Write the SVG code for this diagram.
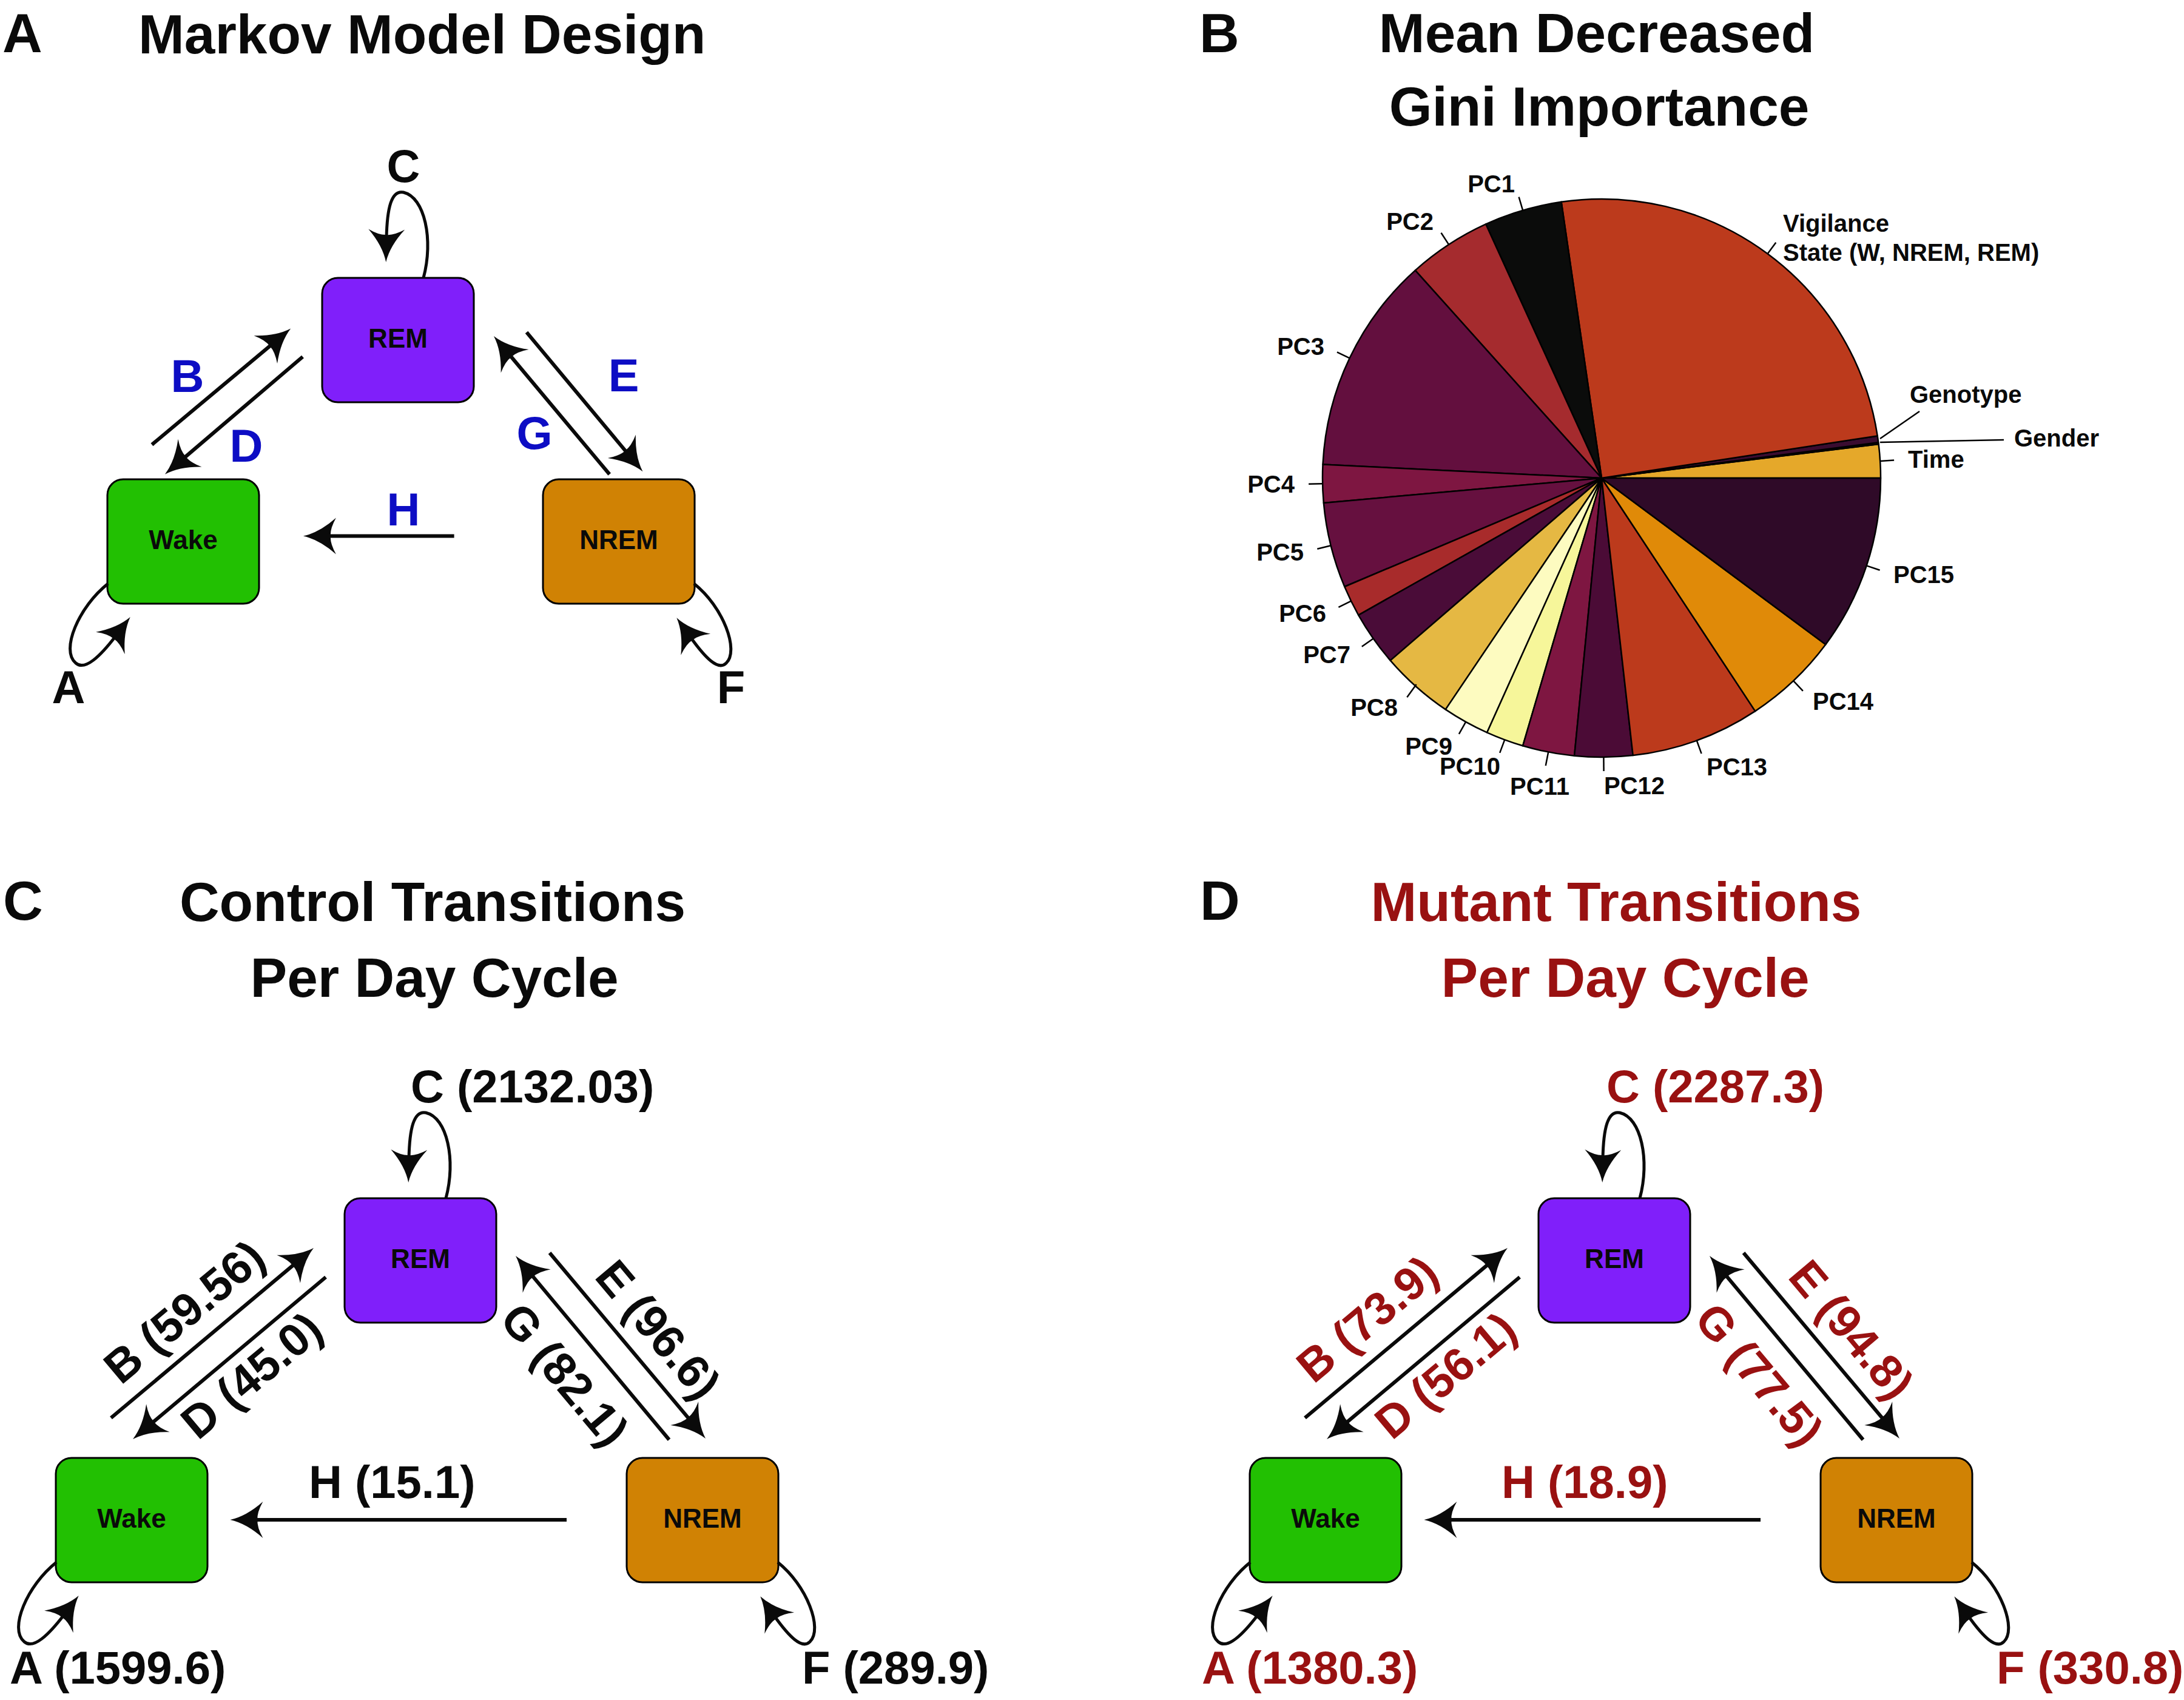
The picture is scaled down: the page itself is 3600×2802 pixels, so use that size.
<svg xmlns="http://www.w3.org/2000/svg" width="3600" height="2802" viewBox="0 0 3600 2802">
<style>
.t{font-family:"Liberation Sans",Arial,Helvetica,sans-serif;font-weight:bold;fill:#0a0a0a}
.ttl{font-size:91px}
.lbl{font-size:76px}
.nt{font-size:44px;text-anchor:middle}
.pl{font-size:40px}
.end{text-anchor:end}
.mid{text-anchor:middle}
.blue{fill:#0d0dc4}
.red{fill:#991111}
.box{stroke:#000;stroke-width:3}
.rem{fill:#801ffa}
.wake{fill:#22c002}
.nrem{fill:#d08204}
.ln{fill:none;stroke:#0a0a0a;stroke-width:6;marker-end:url(#ah)}
.lp{fill:none;stroke:#0a0a0a;stroke-width:5;marker-end:url(#ah)}
.sl{stroke:#000;stroke-width:2.5;stroke-linejoin:round}
.tk{stroke:#000;stroke-width:2.5;fill:none}
</style>
<defs>
<marker id="ah" markerUnits="userSpaceOnUse" markerWidth="120" markerHeight="120" refX="6" refY="0" orient="auto" overflow="visible">
<path d="M45,0 Q18,-6 -9,-30 Q1,-12 0,0 Q1,12 -9,30 Q18,6 45,0 Z" fill="#0a0a0a"/>
</marker>
</defs>
<rect width="3600" height="2802" fill="#fff"/>

<!-- Panel A -->
<g id="panelA">
<text class="t ttl" x="4" y="86">A</text>
<text class="t ttl" x="228" y="88">Markov Model Design</text>
<g id="A-REM"><rect class="box rem" x="531" y="458" width="250" height="205" rx="26"/><text class="t nt" x="656" y="573">REM</text></g>
<g id="A-Wake"><rect class="box wake" x="177" y="790" width="250" height="205" rx="26"/><text class="t nt" x="302" y="905">Wake</text></g>
<g id="A-NREM"><rect class="box nrem" x="895" y="790" width="250" height="205" rx="26"/><text class="t nt" x="1020" y="905">NREM</text></g>
<g id="A-connectors">
<path class="ln" d="M250.4,732.9 L449.3,566.6"/>
<path class="ln" d="M499,588 L301.6,756.4"/>
<path class="ln" d="M868,547.7 L1034.5,747.3"/>
<path class="ln" d="M1004.7,781.8 L839,583.8"/>
<path class="ln" d="M748.6,883.6 L538.9,883.6"/>
<path class="lp" d="M698,458 C715,395 700,325 665,317 C645,313 638,343 637,393"/>
<path class="lp" d="M178,962 C130,1000 99,1072 125,1093 C140,1106 165,1082 191,1048"/>
<path class="lp" d="M1144,962 C1192,1000 1219,1072 1197,1093 C1184,1106 1163,1085 1138,1050"/>
</g>
<g id="A-labels">
<text class="t lbl mid" x="665" y="300">C</text>
<text class="t lbl mid blue" x="309" y="646">B</text>
<text class="t lbl mid blue" x="406" y="761">D</text>
<text class="t lbl mid blue" x="1028" y="645">E</text>
<text class="t lbl mid blue" x="881" y="740">G</text>
<text class="t lbl mid blue" x="665" y="866">H</text>
<text class="t lbl mid" x="113" y="1159">A</text>
<text class="t lbl mid" x="1205" y="1159">F</text>
</g>
</g>

<!-- Panel B -->
<g id="panelB">
<text class="t ttl" x="1977" y="86">B</text>
<text class="t ttl mid" x="2632" y="86">Mean Decreased</text>
<text class="t ttl mid" x="2636" y="207">Gini Importance</text>
<g id="pie">
<path class="sl" fill="#e5a82a" d="M2640,788 L3100,788 A460,460 0 0 0 3096.6,731.9 Z"/>
<path class="sl" fill="#6a1040" d="M2640,788 L3096.6,731.9 A460,460 0 0 0 3096.2,729.2 Z"/>
<path class="sl" fill="#3a0c30" d="M2640,788 L3096.2,729.2 A460,460 0 0 0 3094.7,718.4 Z"/>
<path class="sl" fill="#bc3a1c" d="M2640,788 L3094.7,718.4 A460,460 0 0 0 2573.6,332.8 Z"/>
<path class="sl" fill="#0b0c0b" d="M2640,788 L2573.6,332.8 A460,460 0 0 0 2449.2,369.4 Z"/>
<path class="sl" fill="#a52b2e" d="M2640,788 L2449.2,369.4 A460,460 0 0 0 2332.8,445.6 Z"/>
<path class="sl" fill="#630f3e" d="M2640,788 L2332.8,445.6 A460,460 0 0 0 2180.5,765.5 Z"/>
<path class="sl" fill="#7e1641" d="M2640,788 L2180.5,765.5 A460,460 0 0 0 2181.8,828.9 Z"/>
<path class="sl" fill="#66103f" d="M2640,788 L2181.8,828.9 A460,460 0 0 0 2216.3,967 Z"/>
<path class="sl" fill="#a82b2b" d="M2640,788 L2216.3,967 A460,460 0 0 0 2239.2,1013.8 Z"/>
<path class="sl" fill="#4a0c38" d="M2640,788 L2239.2,1013.8 A460,460 0 0 0 2291.8,1088.6 Z"/>
<path class="sl" fill="#e5b843" d="M2640,788 L2291.8,1088.6 A460,460 0 0 0 2382.8,1169.4 Z"/>
<path class="sl" fill="#fdfbc0" d="M2640,788 L2382.8,1169.4 A460,460 0 0 0 2451.1,1207.4 Z"/>
<path class="sl" fill="#f6f69a" d="M2640,788 L2451.1,1207.4 A460,460 0 0 0 2510.1,1229.3 Z"/>
<path class="sl" fill="#7e1641" d="M2640,788 L2510.1,1229.3 A460,460 0 0 0 2595.1,1245.8 Z"/>
<path class="sl" fill="#4b0b36" d="M2640,788 L2595.1,1245.8 A460,460 0 0 0 2691.7,1245.1 Z"/>
<path class="sl" fill="#bc3a1c" d="M2640,788 L2691.7,1245.1 A460,460 0 0 0 2893.2,1172.1 Z"/>
<path class="sl" fill="#e08a08" d="M2640,788 L2893.2,1172.1 A460,460 0 0 0 3009.3,1062.3 Z"/>
<path class="sl" fill="#2f0a28" d="M2640,788 L3009.3,1062.3 A460,460 0 0 0 3100,788 Z"/>
</g>
<g id="pie-ticks">
<path class="tk" d="M3099.1,759.9 L3122.1,758.5"/>
<path class="tk" d="M3099,729 L3303,725"/>
<path class="tk" d="M3099,723 L3164,678"/>
<path class="tk" d="M2913.6,418.2 L2927.3,399.7"/>
<path class="tk" d="M2510.1,346.7 L2503.6,324.7"/>
<path class="tk" d="M2388.1,403.1 L2375.5,383.8"/>
<path class="tk" d="M2224.7,590.3 L2203.9,580.4"/>
<path class="tk" d="M2180.1,797.2 L2157.1,797.7"/>
<path class="tk" d="M2193.7,899.3 L2171.3,904.8"/>
<path class="tk" d="M2227.1,990.7 L2206.4,1000.8"/>
<path class="tk" d="M2263.7,1052.5 L2244.8,1065.7"/>
<path class="tk" d="M2334.6,1128 L2319.3,1149.2"/>
<path class="tk" d="M2416.1,1189.8 L2404.9,1209.9"/>
<path class="tk" d="M2480.2,1219.4 L2472.2,1240.9"/>
<path class="tk" d="M2552.2,1239.6 L2547.8,1262.1"/>
<path class="tk" d="M2643.4,1248 L2643.6,1271"/>
<path class="tk" d="M2796.8,1220.5 L2804.6,1242.1"/>
<path class="tk" d="M2956.1,1122.2 L2971.9,1138.9"/>
<path class="tk" d="M3076.7,932.4 L3098.6,939.7"/>
</g>
<g id="pie-labels">
<text class="t pl" x="2939" y="382">Vigilance</text>
<text class="t pl" x="2939" y="430">State (W, NREM, REM)</text>
<text class="t pl" x="3148" y="664">Genotype</text>
<text class="t pl" x="3320" y="736">Gender</text>
<text class="t pl" x="3145" y="771">Time</text>
<text class="t pl end" x="2497" y="317">PC1</text>
<text class="t pl end" x="2363" y="379">PC2</text>
<text class="t pl end" x="2183" y="585">PC3</text>
<text class="t pl end" x="2134" y="812">PC4</text>
<text class="t pl end" x="2149" y="924">PC5</text>
<text class="t pl end" x="2186" y="1025">PC6</text>
<text class="t pl end" x="2226" y="1093">PC7</text>
<text class="t pl end" x="2304" y="1180">PC8</text>
<text class="t pl end" x="2394" y="1244">PC9</text>
<text class="t pl end" x="2473" y="1277">PC10</text>
<text class="t pl mid" x="2538" y="1310">PC11</text>
<text class="t pl" x="2644" y="1309">PC12</text>
<text class="t pl" x="2813" y="1278">PC13</text>
<text class="t pl" x="2988" y="1170">PC14</text>
<text class="t pl" x="3121" y="961">PC15</text>
</g>
</g>

<!-- Panel C -->
<g id="panelC">
<text class="t ttl" x="5" y="1516">C</text>
<text class="t ttl mid" x="713" y="1518">Control Transitions</text>
<text class="t ttl mid" x="716" y="1643">Per Day Cycle</text>
<g id="C-REM"><rect class="box rem" x="568" y="1975" width="250" height="205" rx="26"/><text class="t nt" x="693" y="2090">REM</text></g>
<g id="C-Wake"><rect class="box wake" x="92" y="2403" width="250" height="205" rx="26"/><text class="t nt" x="217" y="2518">Wake</text></g>
<g id="C-NREM"><rect class="box nrem" x="1033" y="2403" width="250" height="205" rx="26"/><text class="t nt" x="1158" y="2518">NREM</text></g>
<g id="C-connectors">
<path class="ln" d="M183,2337 L487.1,2082.1"/>
<path class="ln" d="M537,2105 L248.9,2346.9"/>
<path class="ln" d="M906,2065 L1137.9,2341.1"/>
<path class="ln" d="M1103,2373 L875,2099.9"/>
<path class="ln" d="M934,2505 L418.4,2505"/>
<path class="lp" d="M735,1975 C752,1912 737,1842 702,1834 C682,1830 675,1860 674,1910"/>
<path class="lp" d="M93,2575 C45,2613 14,2685 40,2706 C55,2719 80,2695 106,2661"/>
<path class="lp" d="M1282,2575 C1330,2613 1357,2685 1335,2706 C1322,2719 1301,2698 1276,2663"/>
</g>
<g id="C-labels">
<text class="t lbl" x="677" y="1817">C (2132.03)</text>
<text class="t lbl mid" transform="translate(307,2166) rotate(-40)" y="21">B (59.56)</text>
<text class="t lbl mid" transform="translate(418,2271) rotate(-40)" y="21">D (45.0)</text>
<text class="t lbl mid" transform="translate(1081,2195) rotate(50)" y="21">E (96.6)</text>
<text class="t lbl mid" transform="translate(927,2269) rotate(50)" y="21">G (82.1)</text>
<text class="t lbl" x="509" y="2469">H (15.1)</text>
<text class="t lbl" x="16" y="2775">A (1599.6)</text>
<text class="t lbl" x="1322" y="2775">F (289.9)</text>
</g>
</g>

<!-- Panel D -->
<g id="panelD">
<text class="t ttl" x="1978" y="1516">D</text>
<text class="t ttl mid red" x="2664" y="1518">Mutant Transitions</text>
<text class="t ttl mid red" x="2679" y="1643">Per Day Cycle</text>
<g id="D-REM"><rect class="box rem" x="2536" y="1975" width="250" height="205" rx="26"/><text class="t nt" x="2661" y="2090">REM</text></g>
<g id="D-Wake"><rect class="box wake" x="2060" y="2403" width="250" height="205" rx="26"/><text class="t nt" x="2185" y="2518">Wake</text></g>
<g id="D-NREM"><rect class="box nrem" x="3001" y="2403" width="250" height="205" rx="26"/><text class="t nt" x="3126" y="2518">NREM</text></g>
<g id="D-connectors">
<path class="ln" d="M2151,2337 L2455.1,2082.1"/>
<path class="ln" d="M2505,2105 L2216.9,2346.9"/>
<path class="ln" d="M2874,2065 L3105.9,2341.1"/>
<path class="ln" d="M3071,2373 L2843,2099.9"/>
<path class="ln" d="M2902,2505 L2386.4,2505"/>
<path class="lp" d="M2703,1975 C2720,1912 2705,1842 2670,1834 C2650,1830 2643,1860 2642,1910"/>
<path class="lp" d="M2061,2575 C2013,2613 1982,2685 2008,2706 C2023,2719 2048,2695 2074,2661"/>
<path class="lp" d="M3250,2575 C3298,2613 3325,2685 3303,2706 C3290,2719 3269,2698 3244,2663"/>
</g>
<g id="D-labels">
<text class="t lbl red" x="2648" y="1817">C (2287.3)</text>
<text class="t lbl mid red" transform="translate(2257,2178) rotate(-40)" y="21">B (73.9)</text>
<text class="t lbl mid red" transform="translate(2386,2271) rotate(-40)" y="21">D (56.1)</text>
<text class="t lbl mid red" transform="translate(3048,2195) rotate(50)" y="21">E (94.8)</text>
<text class="t lbl mid red" transform="translate(2896,2269) rotate(50)" y="21">G (77.5)</text>
<text class="t lbl red" x="2475" y="2469">H (18.9)</text>
<text class="t lbl red" x="1981" y="2775">A (1380.3)</text>
<text class="t lbl red" x="3291" y="2775">F (330.8)</text>
</g>
</g>
</svg>
